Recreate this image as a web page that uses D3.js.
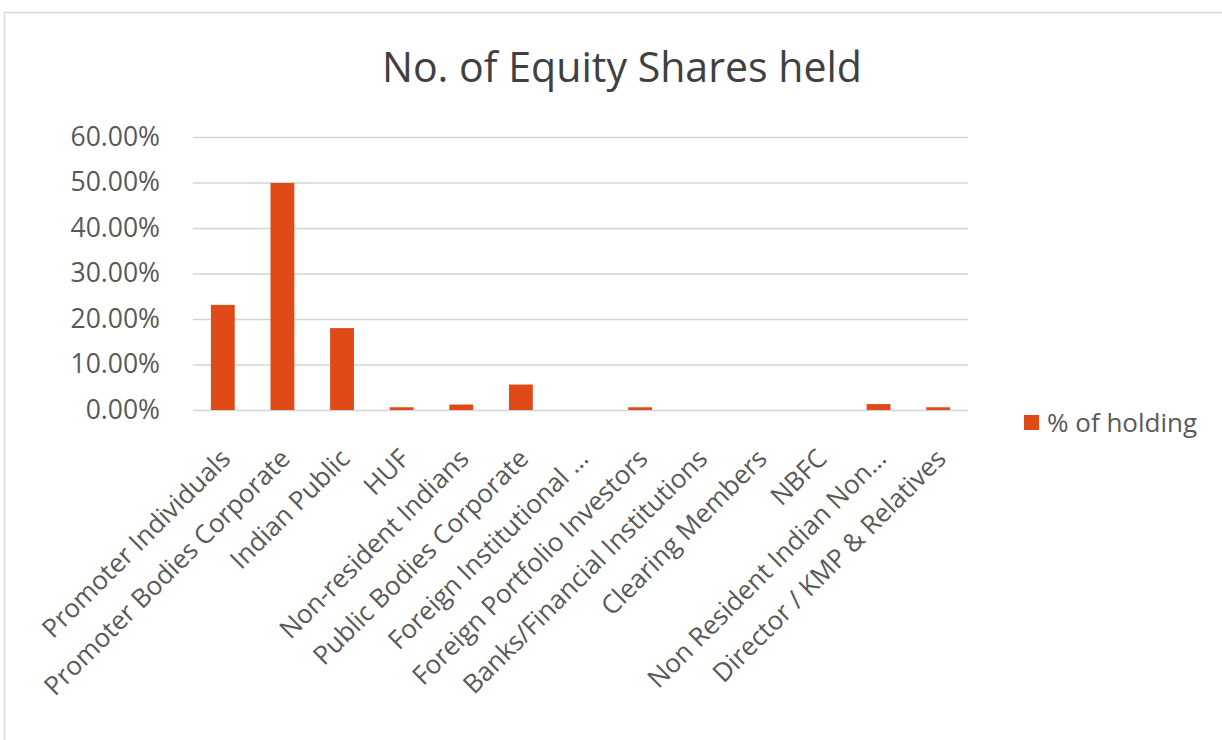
<!DOCTYPE html>
<html>
<head>
<meta charset="utf-8">
<script src="https://cdn.jsdelivr.net/npm/d3@7"></script>
<style>
  body { margin: 0; background: #fff; }
  text { font-family: "Open Sans", sans-serif; }
</style>
</head>
<body>
<script>
// chart data
var categories = [
  "Promoter Individuals", "Promoter Bodies Corporate", "Indian Public", "HUF",
  "Non-resident Indians", "Public Bodies Corporate", "Foreign Institutional \u2026",
  "Foreign Portfolio Investors", "Banks/Financial Institutions", "Clearing Members",
  "NBFC", "Non Resident Indian Non\u2026", "Director / KMP & Relatives"
];
var holding = [0.231, 0.499, 0.180, 0.006, 0.012, 0.056, 0.0, 0.006, 0.0, 0.0, 0.0, 0.013, 0.006];
var yTicks = [0, 0.1, 0.2, 0.3, 0.4, 0.5, 0.6];
var seriesName = "% of holding";
var chartTitle = "No. of Equity Shares held";

var W = 1222, H = 740;
var plot = {left: 193, right: 968, top: 137, bottom: 410};

var svg = d3.select("body").append("svg")
    .attr("width", W)
    .attr("height", H);

// chart area border
svg.append("rect")
    .attr("x", 4.5).attr("y", 12.5)
    .attr("width", W + 20).attr("height", H + 20)
    .attr("fill", "#fff")
    .attr("stroke", "#d9d9d9")
    .attr("stroke-width", 1.5);

var x = d3.scaleBand()
    .domain(categories)
    .range([plot.left, plot.right])
    .paddingInner(0.6)
    .paddingOuter(0.3);

var y = d3.scaleLinear()
    .domain([0, 0.6])
    .range([plot.bottom, plot.top]);

// gridlines + y labels
var yAxis = svg.append("g")
    .attr("transform", "translate(" + plot.left + ",0)")
    .call(d3.axisLeft(y)
        .tickValues(yTicks)
        .tickFormat(d3.format(".2%"))
        .tickSize(-(plot.right - plot.left))
        .tickPadding(33));
yAxis.select(".domain").remove();
yAxis.selectAll(".tick line")
    .attr("stroke", "#d4d4d4")
    .attr("stroke-width", 1.5);
yAxis.selectAll(".tick text")
    .attr("fill", "#595959")
    .style("font-size", "26.5px");

// bars
svg.selectAll(".bar")
    .data(holding)
    .enter().append("rect")
    .attr("class", "bar")
    .attr("x", function(d, i) { return x(categories[i]); })
    .attr("width", x.bandwidth())
    .attr("y", function(d) { return y(d); })
    .attr("height", function(d) { return y(0) - y(d); })
    .attr("fill", "#e04a16");

// category labels, rotated
svg.selectAll(".cat")
    .data(categories)
    .enter().append("text")
    .attr("class", "cat")
    .attr("transform", function(d) {
        var cx = x(d) + x.bandwidth() / 2 - 4;
        return "translate(" + cx + ",447) rotate(-45)";
    })
    .attr("text-anchor", "end")
    .attr("dy", "0.72em")
    .attr("fill", "#595959")
    .style("font-size", "26px")
    .text(function(d) { return d; });

// title
svg.append("text")
    .attr("x", 622)
    .attr("y", 82)
    .attr("text-anchor", "middle")
    .attr("fill", "#404040")
    .attr("textLength", 480)
    .attr("lengthAdjust", "spacingAndGlyphs")
    .style("font-size", "42px")
    .text(chartTitle);

// legend
var legend = svg.append("g").attr("transform", "translate(1024,415)");
legend.append("rect")
    .attr("width", 15).attr("height", 15)
    .attr("fill", "#e04a16");
legend.append("text")
    .attr("x", 23)
    .attr("y", 7.5)
    .attr("dy", "0.35em")
    .attr("fill", "#595959")
    .style("font-size", "26px")
    .text(seriesName);
</script>
</body>
</html>
